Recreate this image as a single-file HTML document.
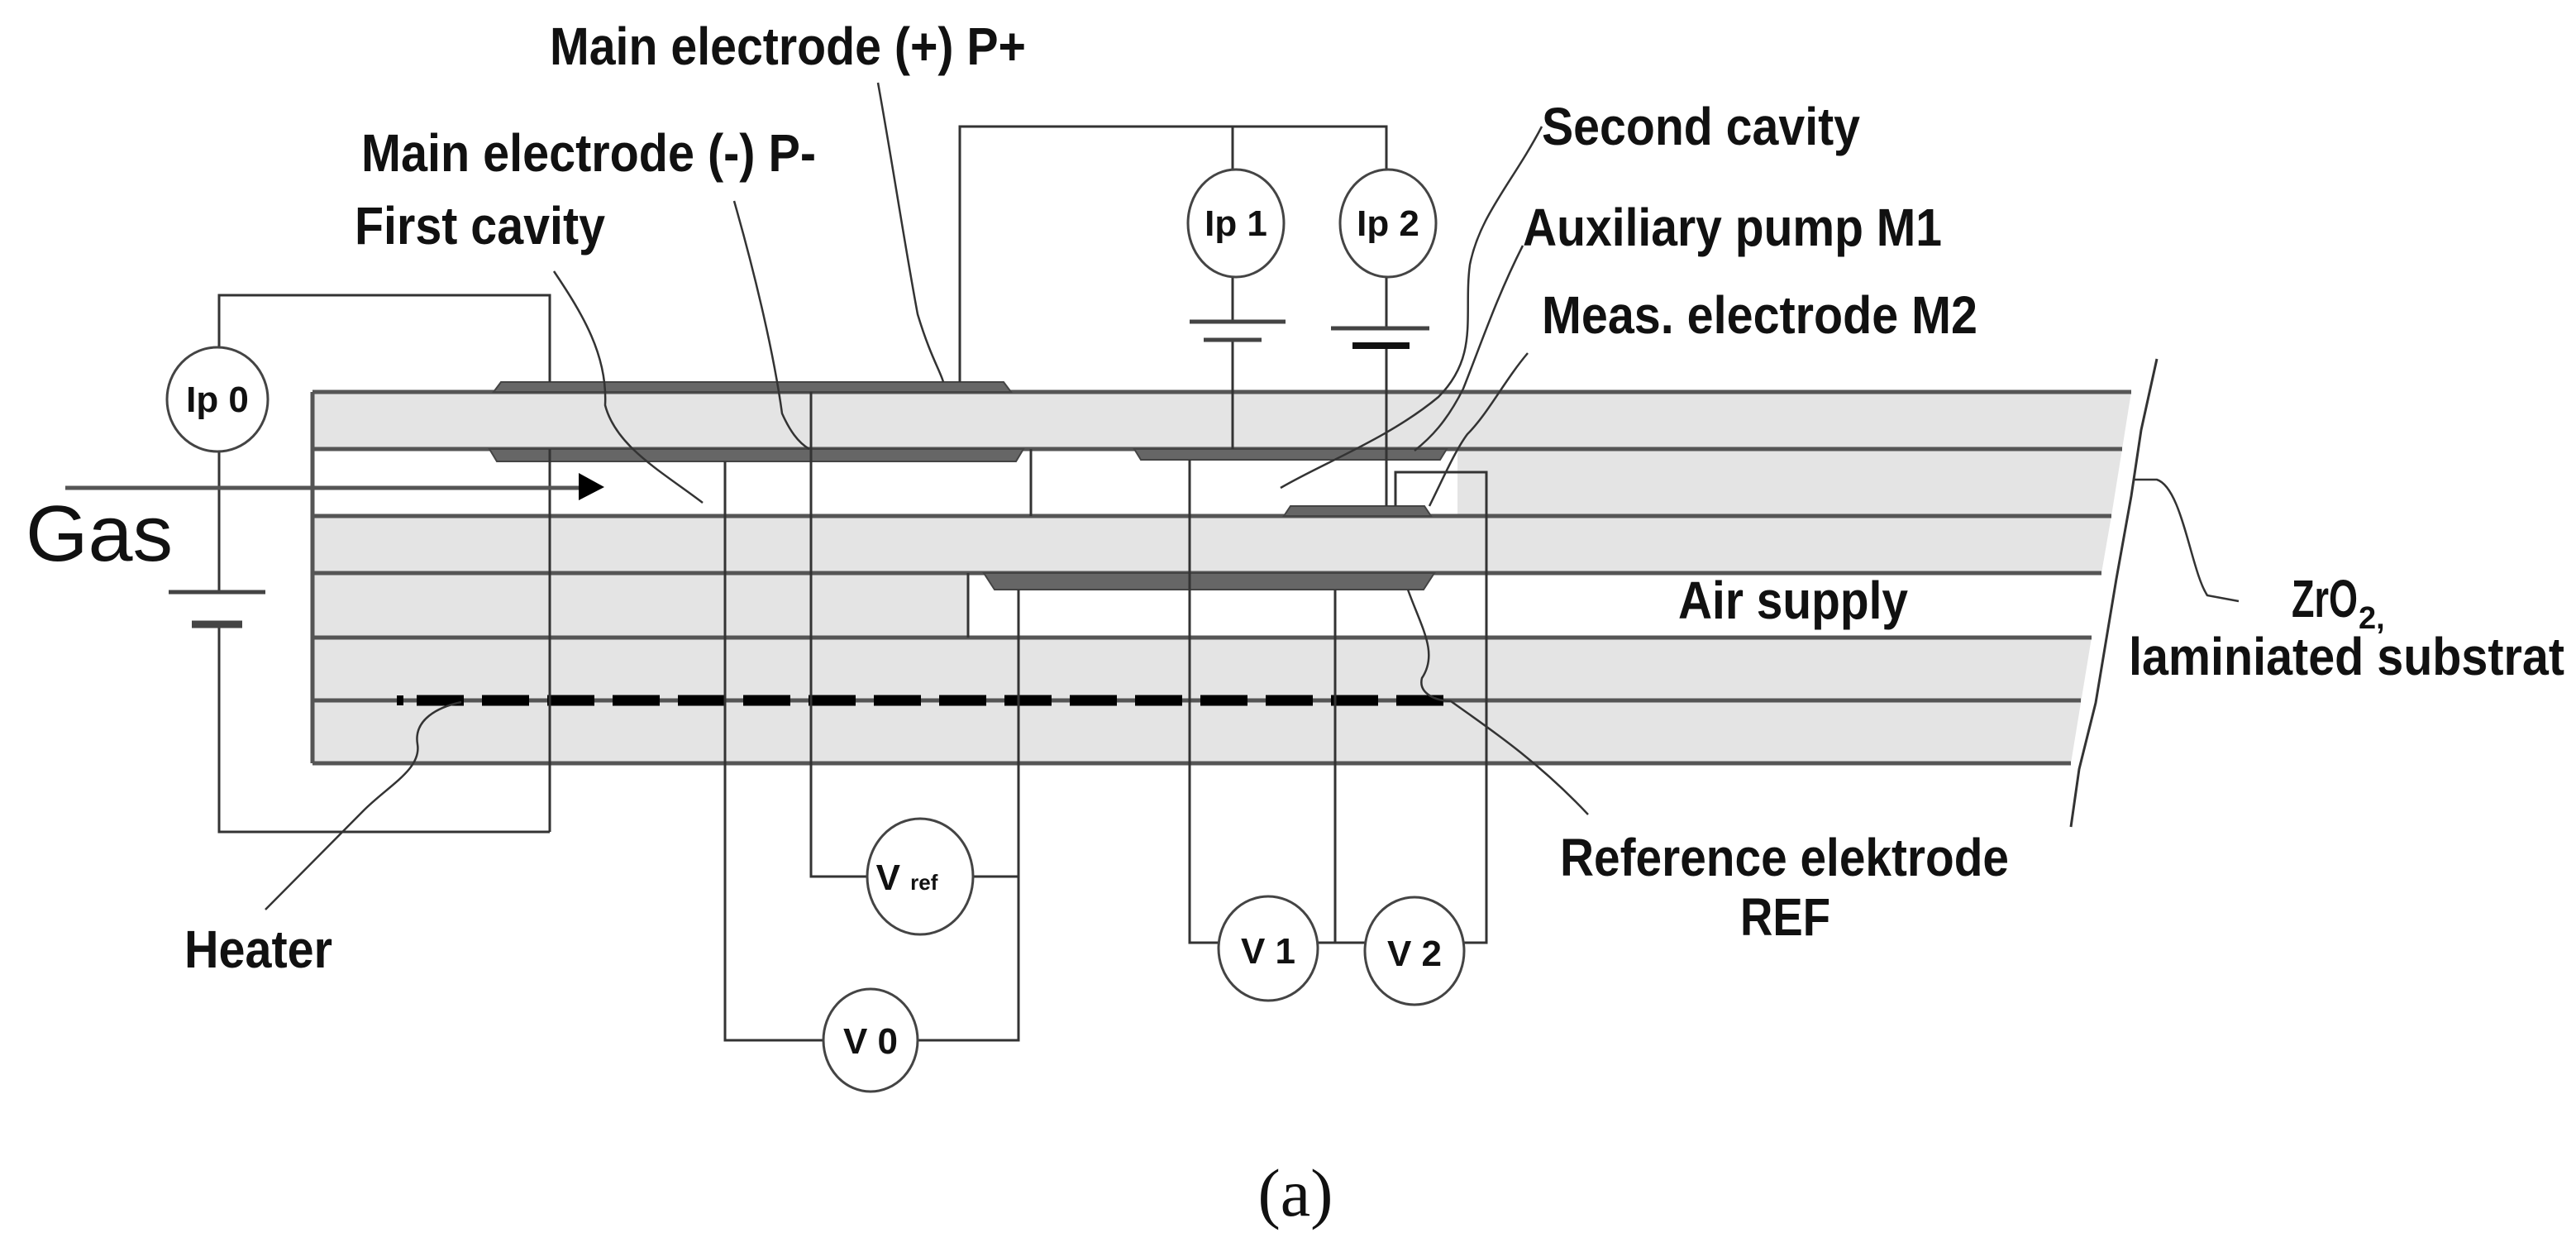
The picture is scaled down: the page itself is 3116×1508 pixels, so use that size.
<!DOCTYPE html>
<html><head><meta charset="utf-8"><style>
html,body{margin:0;padding:0;background:#fff;}
svg{display:block;}
text{font-family:"Liberation Sans",Arial,sans-serif;font-weight:bold;fill:#111;}
</style></head><body>
<svg width="3116" height="1508" viewBox="0 0 3116 1508" xmlns="http://www.w3.org/2000/svg">
<g fill="#e4e4e4">
<polygon points="378,474 2578,474 2567,543 378,543"/>
<polygon points="1763,543 2567,543 2554,624 1763,624"/>
<polygon points="378,624 2554,624 2542,693 378,693"/>
<polygon points="378,693 1171,693 1171,771 378,771"/>
<polygon points="378,771 2530,771 2505,923 378,923"/>
</g>
<g stroke="#555" stroke-width="5" fill="none">
<line x1="378" y1="474" x2="2578" y2="474"/>
<line x1="378" y1="543" x2="2567" y2="543"/>
<line x1="378" y1="624" x2="2554" y2="624"/>
<line x1="378" y1="693" x2="2542" y2="693"/>
<line x1="378" y1="771" x2="2530" y2="771"/>
<line x1="378" y1="847" x2="2517" y2="847"/>
<line x1="378" y1="923" x2="2505" y2="923"/>
<line x1="378" y1="474" x2="378" y2="923"/>
</g>
<path d="M2609,434 L2590,520 L2578,600 L2560,700 L2550,760 L2535,850 L2515,930 L2505,1000" stroke="#333" stroke-width="3" fill="none"/>
<g fill="#666" stroke="#444" stroke-width="2">
<polygon points="597,474 606,462 1214,462 1223,474"/>
<polygon points="592,543 1238,543 1229,558 601,558"/>
<polygon points="1372,543 1750,543 1742,556 1380,556"/>
<polygon points="1553,624 1561,612 1723,612 1731,624"/>
<polygon points="1190,693 1735,693 1722,713 1203,713"/>
</g>
<line x1="482" y1="847" x2="1760" y2="847" stroke="#000" stroke-width="13" stroke-dasharray="57 22" stroke-dashoffset="-22"/>
<rect x="480" y="841" width="8" height="12" fill="#000"/>
<g stroke="#333" stroke-width="3" fill="none">
<polyline points="265,420 265,357 665,357 665,462"/>
<line x1="665" y1="543" x2="665" y2="1006"/>
<polyline points="265,547 265,716"/>
<polyline points="265,755 265,1006 665,1006"/>
<polyline points="877,558 877,1258 996,1258"/>
<polyline points="981,474 981,1060 1049,1060"/>
<polyline points="1161,462 1161,153 1677,153 1677,205"/>
<line x1="1171" y1="693" x2="1171" y2="771"/>
<polyline points="1177,1060 1232,1060"/>
<polyline points="1110,1258 1232,1258 1232,713"/>
<line x1="1247" y1="543" x2="1247" y2="624"/>
<polyline points="1439,556 1439,1140 1474,1140"/>
<line x1="1491" y1="153" x2="1491" y2="205"/>
<line x1="1491" y1="335" x2="1491" y2="389"/>
<line x1="1491" y1="411" x2="1491" y2="543"/>
<line x1="1677" y1="335" x2="1677" y2="397"/>
<line x1="1677" y1="418" x2="1677" y2="612"/>
<polyline points="1615,713 1615,1140"/>
<line x1="1594" y1="1140" x2="1651" y2="1140"/>
<polyline points="1688,612 1688,571 1798,571 1798,1140 1771,1140"/>
<line x1="79" y1="590" x2="705" y2="590" stroke-width="5" stroke="#555"/>
</g>
<polygon points="700,572 731,589 700,605" fill="#000"/>
<g stroke="#444" fill="none">
<line x1="204" y1="716" x2="321" y2="716" stroke-width="5"/>
<line x1="232" y1="755" x2="293" y2="755" stroke-width="9"/>
<line x1="1439" y1="389" x2="1555" y2="389" stroke-width="5"/>
<line x1="1456" y1="411" x2="1526" y2="411" stroke-width="5"/>
<line x1="1610" y1="397" x2="1729" y2="397" stroke-width="5"/>
<line x1="1636" y1="418" x2="1705" y2="418" stroke-width="8" stroke="#111"/>
</g>
<g fill="#fff" stroke="#444" stroke-width="3">
<ellipse cx="263" cy="483" rx="61" ry="63"/>
<ellipse cx="1495" cy="270" rx="58" ry="65"/>
<ellipse cx="1679" cy="270" rx="58" ry="65"/>
<ellipse cx="1113" cy="1060" rx="64" ry="70"/>
<ellipse cx="1053" cy="1258" rx="57" ry="62"/>
<ellipse cx="1534" cy="1147" rx="60" ry="63"/>
<ellipse cx="1711" cy="1150" rx="60" ry="65"/>
</g>
<g font-size="44">
<text x="263" y="498" text-anchor="middle">Ip 0</text>
<text x="1495" y="285" text-anchor="middle">Ip 1</text>
<text x="1679" y="285" text-anchor="middle">Ip 2</text>
<text x="1097" y="1076" text-anchor="middle">V <tspan font-size="26">ref</tspan></text>
<text x="1053" y="1274" text-anchor="middle">V 0</text>
<text x="1534" y="1165" text-anchor="middle">V 1</text>
<text x="1711" y="1168" text-anchor="middle">V 2</text>
</g>
<g stroke="#333" stroke-width="2.5" fill="none">
<path d="M670,328 C705,380 735,430 732,490 C745,540 800,570 850,608"/>
<path d="M888,243 C910,320 935,420 946,500 C955,520 965,535 979,543"/>
<path d="M1062,100 C1080,200 1095,300 1110,380 C1125,430 1138,450 1141,462"/>
<path d="M321,1100 C380,1040 420,1000 440,980 C470,950 510,930 505,900 C500,870 530,855 558,849"/>
<path d="M1865,153 C1830,220 1790,260 1778,320 C1770,380 1790,430 1740,480 C1680,530 1600,560 1549,590"/>
<path d="M1842,297 C1810,360 1790,420 1770,470 C1750,510 1730,530 1711,545"/>
<path d="M1848,427 C1820,460 1800,500 1775,525 C1760,545 1745,580 1729,612"/>
<path d="M1703,713 C1720,760 1740,790 1720,820 C1715,840 1740,848 1755,848 C1800,880 1860,920 1921,985"/>
<path d="M2582,580 L2609,580 C2640,590 2650,690 2670,720 L2708,727"/>
</g>
<g font-size="64">
<text x="665" y="78" textLength="576" lengthAdjust="spacingAndGlyphs">Main electrode (+) P+</text>
<text x="437" y="207" textLength="550" lengthAdjust="spacingAndGlyphs">Main electrode (-) P-</text>
<text x="429" y="295" textLength="303" lengthAdjust="spacingAndGlyphs">First cavity</text>
<text x="1865" y="175" textLength="385" lengthAdjust="spacingAndGlyphs">Second cavity</text>
<text x="1842" y="297" textLength="507" lengthAdjust="spacingAndGlyphs">Auxiliary pump M1</text>
<text x="1865" y="403" textLength="527" lengthAdjust="spacingAndGlyphs">Meas. electrode M2</text>
<text x="2030" y="748" textLength="278" lengthAdjust="spacingAndGlyphs">Air supply</text>
<text x="2772" y="746" textLength="80" lengthAdjust="spacingAndGlyphs">ZrO</text>
<text x="2853" y="760" font-size="38">2,</text>
<text x="2575" y="816" textLength="527" lengthAdjust="spacingAndGlyphs">laminiated substrat</text>
<text x="1887" y="1059" textLength="543" lengthAdjust="spacingAndGlyphs">Reference elektrode</text>
<text x="2105" y="1131" textLength="109" lengthAdjust="spacingAndGlyphs">REF</text>
<text x="223" y="1170" textLength="179" lengthAdjust="spacingAndGlyphs">Heater</text>
</g>
<text x="31" y="678" font-size="96" textLength="178" lengthAdjust="spacingAndGlyphs" style="font-weight:normal">Gas</text>
<text x="1567" y="1470" font-size="82" text-anchor="middle" style="font-family:'Liberation Serif',serif;font-weight:normal">(a)</text>
</svg>
</body></html>
